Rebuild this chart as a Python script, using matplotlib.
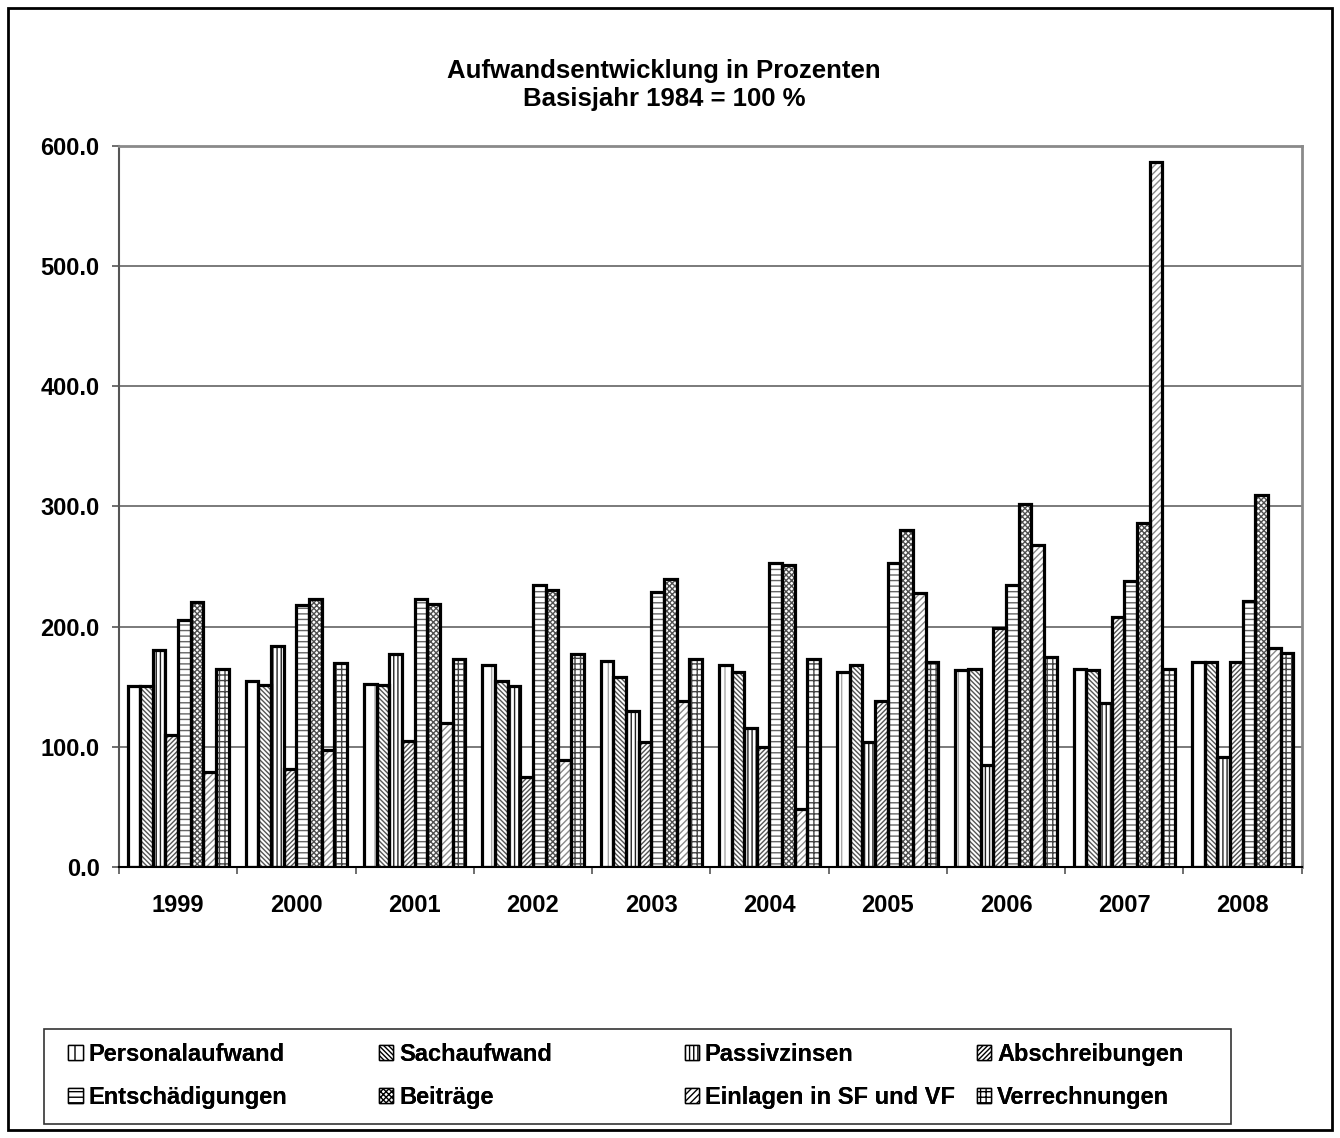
import numpy as np
import matplotlib
matplotlib.use('Agg')
import matplotlib.pyplot as plt
from matplotlib.patches import Patch, Rectangle

# Daten (Basisjahr 1984 = 100 %)
jahre = ['1999', '2000', '2001', '2002', '2003', '2004', '2005', '2006', '2007', '2008']

personalaufwand = [150.6, 154.5, 152.8, 167.8, 171.1, 168.4, 162.5, 164.1, 165.0, 170.5]
sachaufwand = [150.6, 151.7, 151.7, 155.1, 157.8, 162.2, 168.0, 164.5, 163.9, 171.0]
passivzinsen = [180.5, 183.9, 177.2, 150.6, 130.1, 116.2, 104.5, 85.1, 136.7, 91.8]
abschreibungen = [110.1, 81.3, 104.6, 75.2, 104.0, 99.6, 138.2, 198.9, 208.0, 171.0]
entschaedigungen = [205.5, 217.7, 223.3, 234.9, 228.8, 252.7, 252.7, 234.5, 238.2, 221.5]
beitraege = [220.5, 223.3, 218.8, 230.4, 239.9, 251.0, 280.2, 302.2, 286.4, 309.7]
einlagen = [79.4, 97.9, 120.1, 89.0, 137.9, 48.6, 228.0, 268.2, 586.5, 182.2]
verrechnungen = [165.0, 169.5, 173.4, 177.2, 173.4, 172.8, 170.7, 174.9, 165.0, 178.3]

serien = ['Personalaufwand', 'Sachaufwand', 'Passivzinsen', 'Abschreibungen',
          'Entschädigungen', 'Beiträge', 'Einlagen in SF und VF', 'Verrechnungen']
werte = [personalaufwand, sachaufwand, passivzinsen, abschreibungen,
         entschaedigungen, beitraege, einlagen, verrechnungen]

# Schraffuren und Schraffurfarben je Serie
muster = ['|', '\\' * 7, '||||', '/' * 7, '---', 'x' * 6, '/' * 5, '+++']
musterfarben = ['#a8a8a8', '#555555', '#222222', '#555555',
                '#666666', '#505050', '#8a8a8a', '#444444']

plt.rcParams['font.family'] = ['Liberation Sans', 'DejaVu Sans']
plt.rcParams['font.weight'] = 'bold'
plt.rcParams['hatch.linewidth'] = 1.0

fig = plt.figure(figsize=(13.4, 11.38), dpi=100)
ax = fig.add_axes([0.0888, 0.2379, 0.8826, 0.6341])

x = np.arange(len(jahre))
breite = 0.107

for j, (name, vals) in enumerate(zip(serien, werte)):
    pos = x + (j - 3.5) * breite
    ax.bar(pos, vals, breite, color='white', edgecolor=musterfarben[j],
           hatch=muster[j], linewidth=0, zorder=2)
    ax.bar(pos, vals, breite, fill=False, edgecolor='black',
           linewidth=2.3, zorder=3)

ax.set_xlim(-0.5, len(jahre) - 0.5)
ax.set_ylim(0, 600)

ax.set_yticks(np.arange(0, 601, 100))
ax.set_yticklabels([f'{v:.1f}' for v in np.arange(0, 601, 100)])
ax.yaxis.grid(True, color='#707070', linewidth=1.3, zorder=0)
ax.set_axisbelow(True)

ax.set_xticks(x)
ax.set_xticklabels(jahre)
ax.set_xticks(np.arange(-0.5, len(jahre), 1.0), minor=True)
ax.tick_params(axis='x', which='major', length=0, pad=19, labelsize=17)
ax.tick_params(axis='x', which='minor', length=5, width=1.2, color='#555555')
ax.tick_params(axis='y', length=5, width=1.2, color='#555555', pad=9, labelsize=17)

ax.spines['top'].set_color('#8a8a8a')
ax.spines['right'].set_color('#8a8a8a')
ax.spines['top'].set_linewidth(2)
ax.spines['right'].set_linewidth(2)
ax.spines['left'].set_color('#555555')
ax.spines['left'].set_linewidth(1.5)
ax.spines['bottom'].set_color('black')
ax.spines['bottom'].set_linewidth(1.5)

fig.text(0.4955, 0.925, 'Aufwandsentwicklung in Prozenten\nBasisjahr 1984 = 100 %',
         ha='center', va='center', fontsize=18.5, fontweight='bold', linespacing=1.2)

# Legende: 4 Spalten, je 2 Einträge, gemeinsamer Rahmen
spalten_x = [0.044, 0.276, 0.504, 0.722]
for k, sx in enumerate(spalten_x):
    handles = []
    for j in (k, k + 4):
        handles.append(Patch(facecolor='white', edgecolor='black', hatch=muster[j],
                             linewidth=1.0, label=serien[j]))
    leg = fig.legend(handles=handles, loc='center left', bbox_to_anchor=(sx, 0.0545),
                     frameon=False, fontsize=17, handlelength=0.6, handleheight=0.6,
                     handletextpad=0.25, labelspacing=0.85, borderaxespad=0)
    fig.add_artist(leg)

fig.patches.append(Rectangle((0.0328, 0.0123), 0.886, 0.0835, transform=fig.transFigure,
                             fill=False, edgecolor='#333333', linewidth=1.2))
fig.patches.append(Rectangle((0.006, 0.007), 0.988, 0.986, transform=fig.transFigure,
                             fill=False, edgecolor='black', linewidth=2))

fig.savefig('out.png', dpi=100, facecolor='white')
